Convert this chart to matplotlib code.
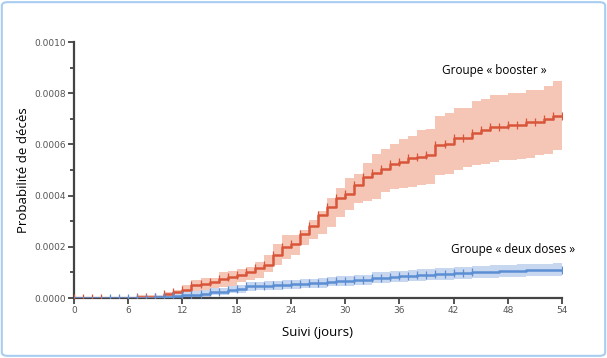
import matplotlib
matplotlib.use('Agg')
import matplotlib.pyplot as plt
from matplotlib.patches import FancyBboxPatch
import numpy as np

# follow-up days
days = list(range(0, 55))

# "booster" group: cumulative death probability and 95% CI
booster = [0, 0, 0, 0, 0, 0, 0, 0.000005, 0.000005, 0.000005,
           0.000017, 0.000022, 0.00003, 0.00005, 0.000056, 0.000062, 0.000075, 0.000082, 0.000089, 0.0001,
           0.000117, 0.00013, 0.000167, 0.0002, 0.000212, 0.00025, 0.00028, 0.000323, 0.000355, 0.00039,
           0.000407, 0.000443, 0.000473, 0.000488, 0.000505, 0.000522, 0.000531, 0.000548, 0.00055, 0.000557,
           0.000596, 0.000603, 0.000625, 0.000625, 0.000645, 0.000655, 0.000668, 0.000668, 0.000676, 0.000676,
           0.000688, 0.000688, 0.0007, 0.00071, 0.00071]
booster_hi = [0, 0, 0, 0, 0, 0, 0, 0.00001, 0.00001, 0.000012,
              0.000025, 0.000032, 0.00005, 0.00007, 0.000078, 0.00008, 0.0001, 0.000104, 0.000115, 0.00012,
              0.00014, 0.000167, 0.000212, 0.000245, 0.000245, 0.000264, 0.000303, 0.00034, 0.000392, 0.00043,
              0.00047, 0.000486, 0.000527, 0.000564, 0.000583, 0.000603, 0.000622, 0.000633, 0.000655, 0.000661,
              0.00071, 0.000723, 0.000742, 0.000742, 0.000768, 0.000776, 0.000792, 0.000792, 0.0008, 0.0008,
              0.000814, 0.000814, 0.00083, 0.000846, 0.000846]
booster_lo = [0, 0, 0, 0, 0, 0, 0, 0, 0, 0,
              0.000008, 0.00001, 0.000012, 0.00002, 0.00003, 0.000035, 0.000043, 0.000048, 0.000062, 0.000069,
              0.00008, 0.0001, 0.000128, 0.000153, 0.000167, 0.000206, 0.00023, 0.00025, 0.000277, 0.000316,
              0.000345, 0.00037, 0.00038, 0.000388, 0.000414, 0.000427, 0.00043, 0.000435, 0.00044, 0.000447,
              0.00048, 0.000486, 0.0005, 0.000512, 0.000518, 0.000524, 0.000531, 0.000538, 0.00054, 0.000544,
              0.000548, 0.000557, 0.000564, 0.000577, 0.000577]

# "deux doses" group
deux = [0, 0, 0, 0, 0, 0, 0, 0, 0, 0.000003,
        0.000005, 0.000008, 0.00001, 0.000013, 0.000015, 0.000022, 0.000025, 0.000033, 0.000035, 0.000045,
        0.000046, 0.000048, 0.00005, 0.000052, 0.000053, 0.000055, 0.000057, 0.000059, 0.000063, 0.000065,
        0.000067, 0.000069, 0.00007, 0.000078, 0.00008, 0.000082, 0.000084, 0.000086, 0.000089, 0.000091,
        0.000093, 0.000095, 0.000097, 0.000099, 0.0001, 0.000102, 0.000103, 0.000105, 0.000106, 0.000107,
        0.000108, 0.000108, 0.000109, 0.00011, 0.00011]
deux_hi = [0, 0, 0, 0, 0, 0, 0, 0, 0, 0.000012,
           0.000015, 0.000019, 0.000022, 0.000026, 0.00003, 0.000038, 0.000041, 0.000048, 0.00005, 0.000062,
           0.000064, 0.000066, 0.000068, 0.00007, 0.000072, 0.000074, 0.000076, 0.000078, 0.000083, 0.000085,
           0.000087, 0.000089, 0.00009, 0.0001, 0.000102, 0.000104, 0.000106, 0.000109, 0.000112, 0.000114,
           0.000116, 0.000118, 0.00012, 0.000122, 0.000124, 0.000126, 0.000127, 0.000129, 0.00013, 0.000131,
           0.000132, 0.000132, 0.000133, 0.000135, 0.000135]
deux_lo = [0, 0, 0, 0, 0, 0, 0, 0, 0, 0,
           0, 0, 0.000001, 0.000003, 0.000005, 0.00001, 0.000012, 0.000018, 0.00002, 0.000029,
           0.00003, 0.000032, 0.000033, 0.000035, 0.000036, 0.000038, 0.000039, 0.000041, 0.000045, 0.000046,
           0.000048, 0.00005, 0.000051, 0.000058, 0.00006, 0.000062, 0.000063, 0.000065, 0.000067, 0.000069,
           0.00007, 0.000072, 0.000074, 0.000076, 0.000077, 0.000079, 0.00008, 0.000081, 0.000082, 0.000083,
           0.000084, 0.000084, 0.000085, 0.000086, 0.000086]

# censoring marks
booster_marks = [0, 1, 2, 3] + list(range(7, 55))
deux_marks = list(range(4, 45)) + [54]

RED = '#d9553a'
RED_BAND = '#f5c6b5'
BLUE = '#5b8ed3'
BLUE_BAND = '#c8d7f0'
AX_COL = '#444444'

fig = plt.figure(figsize=(6.07, 3.58), dpi=100)
ax = fig.add_axes([74 / 607, 1 - 298 / 358, 488 / 607, 256 / 358])

ax.fill_between(days, booster_lo, booster_hi, step='post', color=RED_BAND, lw=0, zorder=1)
ax.fill_between(days, deux_lo, deux_hi, step='post', color=BLUE_BAND, lw=0, zorder=2)

ax.step(days, booster, where='post', color=RED, lw=1.8, zorder=3)
ax.plot(booster_marks, [booster[d] for d in booster_marks], ls='none', marker='|',
        ms=6, mew=0.9, color=RED, zorder=3)
ax.step(days, deux, where='post', color=BLUE, lw=1.8, zorder=4)
ax.plot(deux_marks, [deux[d] for d in deux_marks], ls='none', marker='|',
        ms=6, mew=0.9, color=BLUE, zorder=4)

ax.set_xlim(0, 54)
ax.set_ylim(0, 0.001)
ax.set_xticks(range(0, 55, 6))
ax.set_yticks(np.arange(0, 0.00101, 0.0002))
ax.set_yticks(np.arange(0.0001, 0.001, 0.0002), minor=True)
ax.set_yticklabels(['0.0000', '0.0002', '0.0004', '0.0006', '0.0008', '0.0010'])

for s in ['top', 'right']:
    ax.spines[s].set_visible(False)
for s in ['left', 'bottom']:
    ax.spines[s].set_color(AX_COL)
    ax.spines[s].set_linewidth(1.6)
ax.tick_params(which='both', direction='out', color=AX_COL, width=1.3, labelsize=6.5,
               labelcolor='#555555', pad=2)
ax.tick_params(which='major', length=4)
ax.tick_params(which='minor', length=3)

ax.set_xlabel('Suivi (jours)', fontsize=9.5, family='Open Sans', labelpad=8)
ax.set_ylabel('Probabilité de décès', fontsize=9.5, family='Open Sans', labelpad=3)

ax.text(40.7, 0.000887, 'Groupe « booster »', fontsize=8.5, family='Open Sans',
        va='center', ha='left', clip_on=False)
ax.text(41.7, 0.000188, 'Groupe « deux doses »', fontsize=8.5, family='Open Sans',
        va='center', ha='left', clip_on=False)

frame = FancyBboxPatch((0.003, 0.006), 0.994, 0.988, boxstyle='round,pad=0,rounding_size=0.01',
                       transform=fig.transFigure, fill=False, ec='#a8cdf0', lw=1.5)
fig.patches.append(frame)

fig.savefig('out.png', dpi=100)
